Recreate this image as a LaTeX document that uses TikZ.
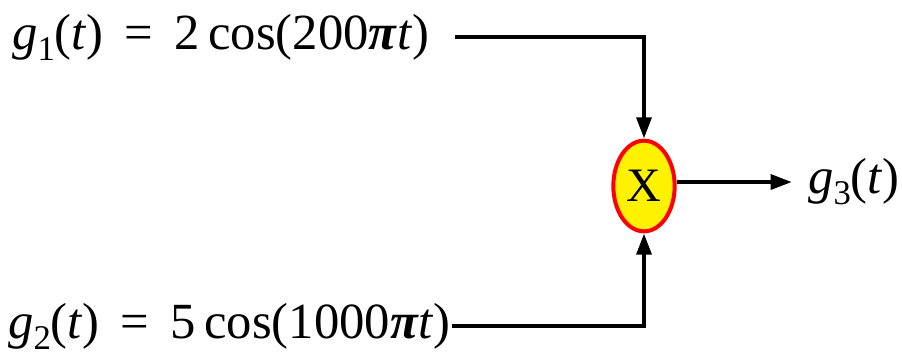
\documentclass[tikz,border=0pt]{standalone}
\usepackage{fontspec}
\setmainfont{Liberation Serif}
\usetikzlibrary{shapes.geometric,arrows.meta}
\newcommand{\sbs}[1]{\raisebox{-0.22em}{\fontsize{26}{26}\selectfont #1}}
\begin{document}
\begin{tikzpicture}[x=0.75pt,y=-0.75pt,
  lbl/.style={font=\fontsize{38}{42}\selectfont, inner sep=0pt},
  wire/.style={line width=3.2pt, -{Triangle[length=16pt,width=11pt]}},
  mult/.style={ellipse, draw=red, fill=yellow, line width=3pt, minimum width=46pt, minimum height=68pt, inner sep=0pt, font=\fontsize{36}{36}\selectfont}]
\useasboundingbox (0,0) rectangle (902,355);
\node[mult] (m) at (644,186) {X};
\node[lbl, anchor=west] (g1) at (12,37) {\textit{g}\sbs{1}(\textit{t})\, = \,2\,cos(200\textbf{\textit{π}}\textit{t})};
\node[lbl, anchor=west] (g2) at (8,326) {\textit{g}\sbs{2}(\textit{t})\, = \,5\,cos(1000\textbf{\textit{π}}\textit{t})};
\node[lbl, anchor=west] (g3) at (808,182) {\textit{g}\sbs{3}(\textit{t})};
\coordinate (c1) at (455,37);
\coordinate (c2) at (452,326);
\draw[wire] (c1) -| (m.north);
\draw[wire] (c2) -| (m.south);
\draw[wire] (m.east |- 0,182) -- ([xshift=-12pt]g3.west);
\end{tikzpicture}
\end{document}
